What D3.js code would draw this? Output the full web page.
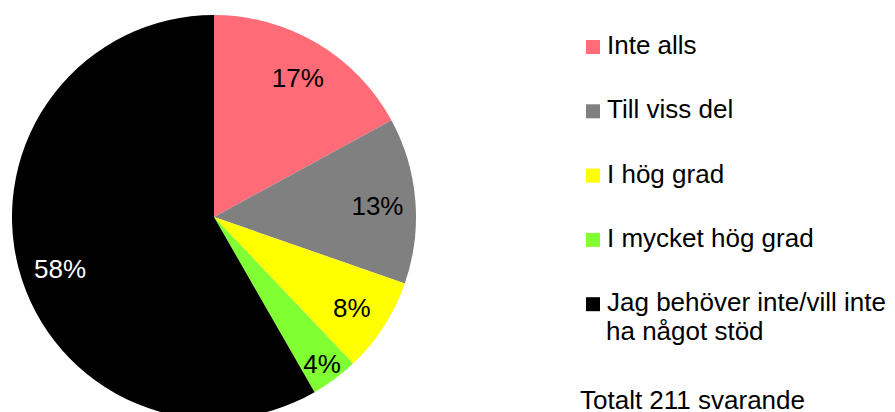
<!DOCTYPE html>
<html>
<head>
<meta charset="utf-8">
<script src="https://cdn.jsdelivr.net/npm/d3@7"></script>
<style>
  html, body { margin: 0; padding: 0; background: #fff; }
  svg { display: block; font-family: "Liberation Sans", Arial, sans-serif; }
</style>
</head>
<body>
<svg id="chart" width="895" height="412"></svg>
<script>
// Data (respondent counts, total 211)
const categories = ["Inte alls", "Till viss del", "I hög grad", "I mycket hög grad", "Jag behöver inte/vill inte ha något stöd"];
const legendLines = [["Inte alls"], ["Till viss del"], ["I hög grad"], ["I mycket hög grad"], ["Jag behöver inte/vill inte", "ha något stöd"]];
const counts = [36, 28, 16, 8, 123];
const colors = ["#FF6B77", "#808080", "#FFFF00", "#80FF33", "#000000"];
const labelColors = ["#000", "#000", "#000", "#000", "#fff"];
const footnote = "Totalt 211 svarande";

const svg = d3.select("#chart");
const cx = 214, cy = 217, r = 202;
const total = d3.sum(counts);
const fs = 26;

const pie = d3.pie().sort(null).value(d => d)(counts);
const arc = d3.arc().innerRadius(0).outerRadius(r);

const g = svg.append("g").attr("transform", `translate(${cx},${cy})`);
g.selectAll("path").data(pie).join("path")
  .attr("d", arc)
  .attr("fill", (d, i) => colors[i]);

g.selectAll("text").data(pie).join("text")
  .attr("transform", d => {
    const frac = (d.endAngle - d.startAngle) / (2 * Math.PI);
    const lr = frac < 0.05 ? 181 : (frac > 0.5 ? 162 : 164);
    // large slice label sits a little lower (best-fit placement)
    const a = (d.startAngle + d.endAngle) / 2 - (frac > 0.5 ? 0.055 : 0);
    return `translate(${Math.sin(a) * lr},${-Math.cos(a) * lr + 2})`;
  })
  .attr("text-anchor", "middle")
  .attr("dy", "0.35em")
  .attr("font-size", fs)
  .attr("fill", (d, i) => labelColors[i])
  .text(d => Math.round(d.value / total * 100) + "%");

// Legend
const leg = svg.append("g");
const itemY = i => 54 + i * 64.3;
categories.forEach((c, i) => {
  leg.append("rect")
    .attr("x", 586).attr("y", itemY(i) - 14)
    .attr("width", 14).attr("height", 14)
    .attr("fill", colors[i]);
  const t = leg.append("text")
    .attr("x", 606).attr("y", itemY(i))
    .attr("font-size", fs)
    .attr("fill", "#000");
  legendLines[i].forEach((line, j) => {
    t.append("tspan").attr("x", j === 0 ? 607 : 606).attr("dy", j === 0 ? 0 : 28.5).text(line);
  });
});

svg.append("text")
  .attr("x", 580).attr("y", 409)
  .attr("font-size", fs)
  .attr("fill", "#000")
  .text(footnote);
</script>
</body>
</html>
